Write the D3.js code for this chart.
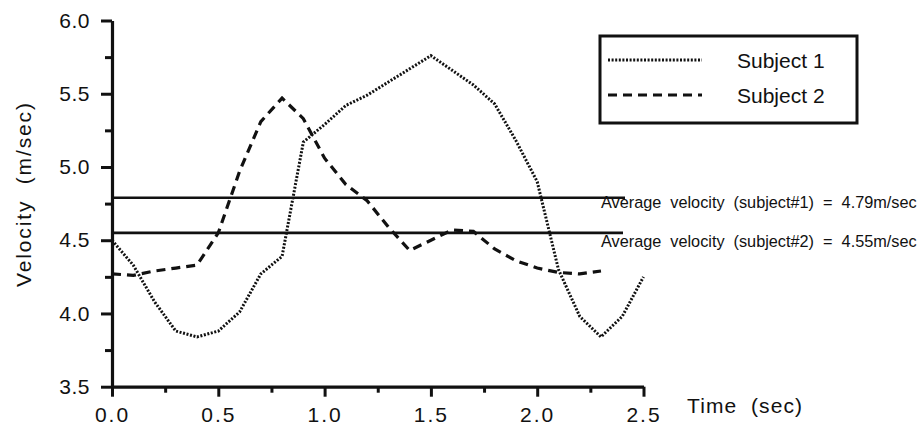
<!DOCTYPE html>
<html>
<head>
<meta charset="utf-8">
<script src="https://cdn.jsdelivr.net/npm/d3@7"></script>
<style>
  body { margin: 0; background: #fff; }
  text { font-family: "Liberation Sans", Arial, sans-serif; fill: #111; }
</style>
</head>
<body>
<div id="chart"></div>
<script>
// time (sec)
var time1 = [0.0, 0.1, 0.2, 0.3, 0.4, 0.5, 0.6, 0.7, 0.8, 0.9, 1.0, 1.1, 1.2,
             1.3, 1.4, 1.5, 1.6, 1.7, 1.8, 1.9, 2.0, 2.1, 2.2, 2.3, 2.4, 2.5];
var subject1 = [4.50, 4.33, 4.08, 3.88, 3.84, 3.88, 4.01, 4.27, 4.39, 5.17, 5.29, 5.42, 5.49,
                5.58, 5.67, 5.76, 5.66, 5.56, 5.43, 5.18, 4.90, 4.30, 3.98, 3.84, 3.98, 4.25];
var time2 = [0.0, 0.1, 0.2, 0.3, 0.4, 0.5, 0.6, 0.7, 0.8, 0.9, 1.0, 1.1,
             1.2, 1.3, 1.4, 1.5, 1.6, 1.7, 1.8, 1.9, 2.0, 2.1, 2.2, 2.3];
var subject2 = [4.27, 4.26, 4.29, 4.31, 4.33, 4.55, 4.97, 5.31, 5.47, 5.33, 5.06, 4.88,
                4.77, 4.59, 4.43, 4.50, 4.57, 4.56, 4.44, 4.36, 4.31, 4.28, 4.27, 4.29];
var averages = [4.79, 4.55];
var averageLabels = ["Average  velocity  (subject#1)  =  4.79m/sec",
                     "Average  velocity  (subject#2)  =  4.55m/sec"];
var seriesNames = ["Subject 1", "Subject 2"];
var xTicks = [0.0, 0.5, 1.0, 1.5, 2.0, 2.5];
var xMinor = [0.25, 0.75, 1.25, 1.75, 2.25];
var yTicks = [3.5, 4.0, 4.5, 5.0, 5.5, 6.0];
var yMinor = [3.75, 4.25, 4.75, 5.25, 5.75];

var w = 924;
var h = 425;
var mLeft = 112, mTop = 20.5, mRight = 643.5, mBottom = 386.7;

var svg = d3.select("#chart")
            .append("svg")
            .attr("width", w)
            .attr("height", h);

var x = d3.scaleLinear().domain([0, 2.5]).range([mLeft, mRight]);
var y = d3.scaleLinear().domain([3.5, 6.0]).range([mBottom, mTop]);

// minor ticks first, then the main axes on top
svg.append("g")
   .attr("transform", "translate(0," + mBottom + ")")
   .call(d3.axisBottom(x).tickValues(xMinor).tickSize(6).tickFormat(""))
   .call(function(g) { g.select(".domain").remove(); })
   .selectAll("line").attr("stroke-width", 3).attr("stroke", "#111");

svg.append("g")
   .attr("transform", "translate(" + mLeft + ",0)")
   .call(d3.axisLeft(y).tickValues(yMinor).tickSize(7).tickFormat(""))
   .call(function(g) { g.select(".domain").remove(); })
   .selectAll("line").attr("stroke-width", 3).attr("stroke", "#111");

var xAxis = svg.append("g")
   .attr("transform", "translate(0," + mBottom + ")")
   .call(d3.axisBottom(x).tickValues(xTicks).tickSize(10).tickSizeOuter(0)
           .tickPadding(10).tickFormat(d3.format(".1f")));
xAxis.select(".domain").attr("stroke-width", 3.2).attr("stroke", "#111");
xAxis.selectAll("line").attr("stroke-width", 3).attr("stroke", "#111");
xAxis.selectAll("text")
     .attr("font-size", "21px")
     .attr("font-family", "Liberation Sans, Arial, sans-serif")
     .attr("letter-spacing", "2px")
     .attr("fill", "#111");

var yAxis = svg.append("g")
   .attr("transform", "translate(" + mLeft + ",0)")
   .call(d3.axisLeft(y).tickValues(yTicks).tickSize(11).tickSizeOuter(0)
           .tickPadding(11).tickFormat(d3.format(".1f")));
yAxis.select(".domain").attr("stroke-width", 3.2).attr("stroke", "#111");
yAxis.selectAll("line").attr("stroke-width", 3).attr("stroke", "#111");
yAxis.selectAll("text")
     .attr("font-size", "21px")
     .attr("font-family", "Liberation Sans, Arial, sans-serif")
     .attr("letter-spacing", "0.5px")
     .attr("fill", "#111");

// axis titles
svg.append("text")
   .attr("transform", "translate(31,195) rotate(-90)")
   .attr("text-anchor", "middle")
   .attr("font-size", "21px")
   .attr("textLength", 184)
   .attr("lengthAdjust", "spacing")
   .style("white-space", "pre")
   .text("Velocity  (m/sec)");

svg.append("text")
   .attr("x", 687)
   .attr("y", 413)
   .attr("font-size", "21px")
   .attr("textLength", 115)
   .attr("lengthAdjust", "spacing")
   .style("white-space", "pre")
   .text("Time  (sec)");

// average velocity lines
var avgEnds = [625, 623];
svg.selectAll(".avg")
   .data(averages)
   .enter()
   .append("line")
   .attr("class", "avg")
   .attr("x1", mLeft)
   .attr("x2", function(d, i) { return avgEnds[i]; })
   .attr("y1", function(d) { return y(d); })
   .attr("y2", function(d) { return y(d); })
   .attr("stroke", "#111")
   .attr("stroke-width", 2.6);

// narrow labels: squeeze the text horizontally to fit 318px
svg.selectAll(".avgLabel")
   .data(averageLabels)
   .enter()
   .append("text")
   .attr("class", "avgLabel")
   .attr("font-family", "Liberation Sans Narrow, Liberation Sans, Arial, sans-serif")
   .attr("font-size", "17px")
   .style("white-space", "pre")
   .text(function(d) { return d; })
   .attr("transform", function(d, i) {
     var len = this.getComputedTextLength();
     var ty = y(averages[i]) + (i == 0 ? 10 : 14);
     return "translate(601," + ty + ") scale(" + (316 / len) + ",1)";
   });

// the two velocity curves
var line = d3.line()
             .x(function(d) { return x(d[0]); })
             .y(function(d) { return y(d[1]); });

svg.append("path")
   .datum(d3.zip(time1, subject1))
   .attr("d", line)
   .attr("fill", "none")
   .attr("stroke", "#111")
   .attr("stroke-width", 3)
   .attr("stroke-dasharray", "2,1.6");

svg.append("path")
   .datum(d3.zip(time2, subject2))
   .attr("d", line)
   .attr("fill", "none")
   .attr("stroke", "#111")
   .attr("stroke-width", 3.2)
   .attr("stroke-dasharray", "9,6");

// legend
var legend = svg.append("g");
legend.append("rect")
      .attr("x", 600)
      .attr("y", 36)
      .attr("width", 257)
      .attr("height", 87)
      .attr("fill", "none")
      .attr("stroke", "#111")
      .attr("stroke-width", 3);

var legendDash = ["2,1.6", "9,6"];
var legendWidth = [3, 3.2];
legend.selectAll(".legLine")
      .data(seriesNames)
      .enter()
      .append("line")
      .attr("x1", 608)
      .attr("x2", 702)
      .attr("y1", function(d, i) { return 60 + i * 35; })
      .attr("y2", function(d, i) { return 60 + i * 35; })
      .attr("stroke", "#111")
      .attr("stroke-width", function(d, i) { return legendWidth[i]; })
      .attr("stroke-dasharray", function(d, i) { return legendDash[i]; });

legend.selectAll(".legText")
      .data(seriesNames)
      .enter()
      .append("text")
      .attr("x", 737)
      .attr("y", function(d, i) { return 68 + i * 35; })
      .attr("font-size", "21px")
      .text(function(d) { return d; });
</script>
</body>
</html>
